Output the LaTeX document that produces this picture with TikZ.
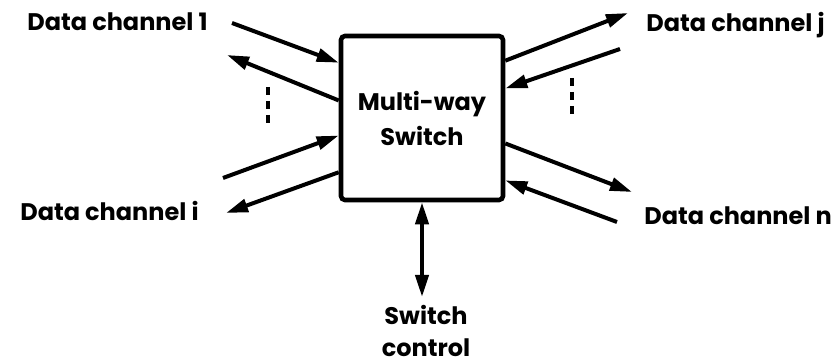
\documentclass[tikz,border=0pt]{standalone}
\usepackage{fontspec}
\setmainfont{Poppins}
\usetikzlibrary{arrows.meta,calc}
\begin{document}
\begin{tikzpicture}[x=0.5pt,y=-0.5pt,
  lbl/.style={font=\bfseries\fontsize{12}{16}\selectfont, inner sep=0pt},
  conn/.style={line width=2pt, -{Triangle[length=11pt,width=6.5pt]}},
  bidir/.style={line width=2pt, {Triangle[length=11pt,width=6.5pt]}-{Triangle[length=11pt,width=6.5pt]}},
  swbox/.style={draw, line width=2.3pt, rounded corners=2pt, minimum width=81pt, minimum height=82pt, inner sep=0pt, align=center, font=\bfseries\fontsize{12}{17.5}\selectfont},
  dots/.style={line width=2pt, dash pattern=on 4pt off 3pt}
]
\useasboundingbox (0,0) rectangle (840,362);

\node[swbox] (sw) at (422,118) {\raisebox{-2pt}{Multi-way}\\\raisebox{-2pt}{Switch}};

% free ends
\coordinate (l1) at (232,23);
\coordinate (l2) at (227,55);
\coordinate (l3) at (223,178);
\coordinate (l4) at (226,213);
\coordinate (r1) at (628,13);
\coordinate (r2) at (620,49);
\coordinate (r3) at (632,192);
\coordinate (r4) at (617,222);
\coordinate (ctl) at (422,297);

% left side
\draw[conn] (l1) -- ($(sw.north west)!0.172!(sw.south west)$);
\draw[conn] ($(sw.north west)!0.396!(sw.south west)$) -- (l2);
\draw[conn] (l3) -- ($(sw.north west)!0.604!(sw.south west)$);
\draw[conn] ($(sw.north west)!0.822!(sw.south west)$) -- (l4);

% right side
\draw[conn] ($(sw.north east)!0.160!(sw.south east)$) -- (r1);
\draw[conn] (r2) -- ($(sw.north east)!0.325!(sw.south east)$);
\draw[conn] ($(sw.north east)!0.651!(sw.south east)$) -- (r3);
\draw[conn] (r4) -- ($(sw.north east)!0.870!(sw.south east)$);

% control
\draw[bidir] (sw.south) -- (ctl);

% dots
\draw[dots] (268,87) -- (268,124);
\draw[dots] (572,78) -- (572,119);

% labels
\node[lbl, anchor=east] (t1) at (208,22) {Data channel 1};
\node[lbl, anchor=east] (ti) at (199,211) {Data channel i};
\node[lbl, anchor=west] (tj) at (646,25) {Data channel j};
\node[lbl, anchor=west] (tn) at (644,216) {Data channel n};
\node[lbl, align=center, anchor=north] (tc) at (426,305) {Switch\\control};
\end{tikzpicture}
\end{document}
